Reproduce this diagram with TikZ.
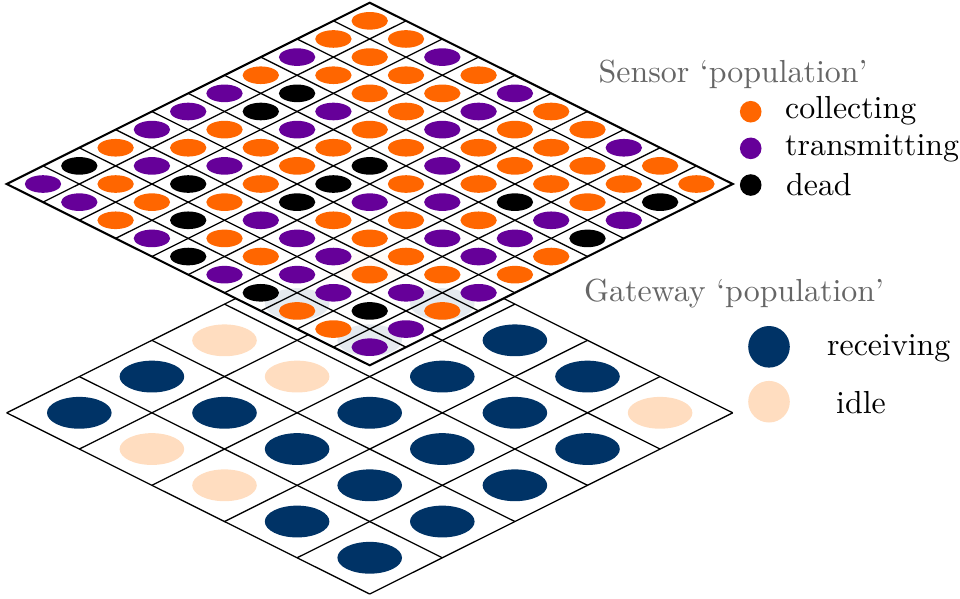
\documentclass[tikz,border=0pt]{standalone}
\usepackage{fontspec}
\usetikzlibrary{calc}
\definecolor{cellO}{HTML}{FF6600}
\definecolor{cellP}{HTML}{660099}
\definecolor{cellB}{HTML}{000000}
\definecolor{gwR}{HTML}{003366}
\definecolor{gwI}{HTML}{FFDDC0}
\begin{document}
\begin{tikzpicture}[x=0.3135pt,y=-0.3135pt,
  gridline/.style={line width=0.4pt},
  border/.style={line width=0.65pt, line join=miter},
  legtitle/.style={text=black!60, anchor=base west, inner sep=0pt},
  legtext/.style={anchor=base west, inner sep=0pt}]
\useasboundingbox (0,0) rectangle (960,598);

% corners of the two layers
\coordinate (sT) at (369.7,2.7);
\coordinate (sR) at (732.7,184.0);
\coordinate (sB) at (369.7,365.3);
\coordinate (sL) at (6.7,184.0);
\coordinate (gT) at (369.7,231.6);

% gateway layer: 5x5 grid lines
\foreach \t in {0,...,5} {
  \draw[gridline] ($(gT)+({72.6*\t},{36.24*\t})$) -- ++({-72.6*5},{36.24*5});
  \draw[gridline] ($(gT)+({-72.6*\t},{36.24*\t})$) -- ++({72.6*5},{36.24*5});
}

% sensor layer background
\fill[white] (sT) -- (sR) -- (sB) -- (sL) -- cycle;

% gateway states (those under the sensor layer show faintly)
\foreach \row [count=\i from 0] in {{I,R,I,R,R},{R,R,I,R,I},{R,R,R,R,I},{R,R,R,R,R},{I,R,R,R,R}} {
  \foreach \c [count=\j from 0] in \row {
    \pgfmathsetmacro{\op}{and(\i<2,\j<2) ? 0.1 : 1}
    \fill[gw\c, fill opacity=\op] ({369.7+72.6*(\i-\j)},{231.6+36.24*(\i+\j+1)}) ellipse [x radius=32.3, y radius=15.9];
  }
}

% sensor layer: 10x10 grid lines
\foreach \t in {1,...,9} {
  \draw[gridline] ($(sT)+({36.3*\t},{18.13*\t})$) -- ++({-36.3*10},{18.13*10});
  \draw[gridline] ($(sT)+({-36.3*\t},{18.13*\t})$) -- ++({36.3*10},{18.13*10});
}
\draw[border] (sT) -- (sR) -- (sB) -- (sL) -- cycle;

% sensor states
\foreach \row [count=\i from 0] in {
  {O,O,P,O,P,P,P,O,B,P},
  {O,O,O,B,B,O,O,P,O,P},
  {P,O,O,P,P,O,P,B,O,O},
  {O,O,O,O,O,O,O,O,B,P},
  {P,P,P,O,B,B,B,P,O,B},
  {O,O,O,P,O,P,O,P,O,P},
  {O,O,O,O,P,O,O,P,P,B},
  {P,O,O,B,O,P,O,O,P,O},
  {O,O,O,P,P,P,O,P,B,O},
  {O,B,P,B,O,O,P,O,P,P}} {
  \foreach \c [count=\j from 0] in \row {
    \fill[cell\c] ({369.7+36.3*(\i-\j)},{2.7+18.13*(\i+\j+1)}) ellipse [x radius=18.2, y radius=8.8];
  }
}

% sensor legend
\node[legtitle] (sTitle) at (598,82.7) {Sensor ‘population’};
\fill[cellO] (750.7,111.7) circle [radius=10.8];
\node[legtext] (sCol) at (784.5,118.3) {collecting};
\fill[cellP] (750.7,148.3) circle [radius=10.8];
\node[legtext] (sTra) at (784.5,155.0) {transmitting};
\fill[cellB] (750.7,185.0) circle [radius=10.8];
\node[legtext] (sDea) at (785.5,195.0) {dead};

% gateway legend
\node[legtitle] (gTitle) at (583.5,301.7) {Gateway ‘population’};
\fill[gwR] (769,346.8) circle [radius=20.8];
\node[legtext] (gRec) at (826.5,355.0) {receiving};
\fill[gwI] (769,401.7) circle [radius=20.8];
\node[legtext] (gIdl) at (835.5,413.3) {idle};
\end{tikzpicture}
\end{document}
